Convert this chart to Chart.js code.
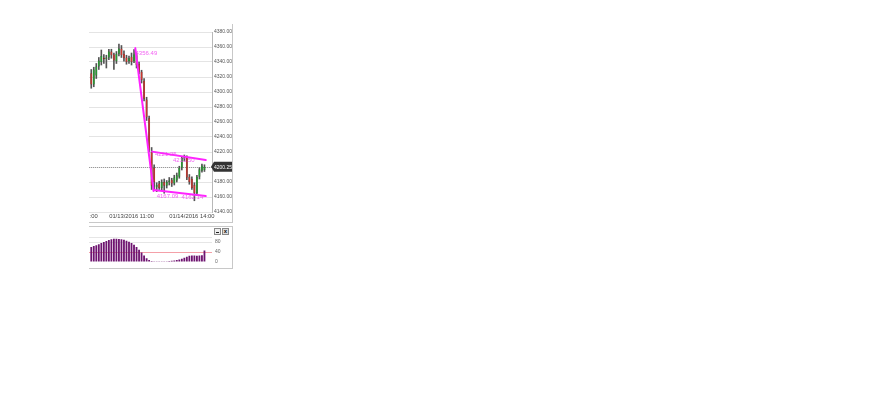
<!DOCTYPE html>
<html>
<head>
<meta charset="utf-8">
<script src="https://cdn.jsdelivr.net/npm/chart.js@4.4.0/dist/chart.umd.min.js"></script>
<style>
  body { margin: 0; background: #fff; width: 880px; height: 400px; position: relative; overflow: hidden; }
  #main { position: absolute; left: 89px; top: 24px; width: 143px; height: 198px; border-right: 1px solid #c8c8c8; border-bottom: 1px solid #c8c8c8; }
  #sub { position: absolute; left: 89px; top: 226px; width: 143px; height: 41px; border: 1px solid #c8c8c8; border-left: none; }
  .ico { position: absolute; top: 228px; width: 5px; height: 5px; border: 1px solid #888; background: #eee; }
  #min { left: 214px; }
  #min:after { content: ""; position: absolute; left: 1px; right: 1px; bottom: 1px; height: 1px; background: #222; }
  #cls { left: 222px; background: #ddd; font: bold 6px "Liberation Sans", sans-serif; line-height: 5px; text-align: center; color: #111; }
</style>
</head>
<body>
<div id="main"><canvas id="price" width="143" height="198"></canvas></div>
<div id="sub"><canvas id="osc" width="143" height="41"></canvas></div>
<div class="ico" id="min"></div>
<div class="ico" id="cls">x</div>
<script>
// candles, one per bar (indices 0..45)
const candleOpen  = [4325, 4310, 4322, 4334, 4340, 4345, 4344, 4346, 4354, 4350, 4341, 4351, 4358, 4351, 4346, 4341,
                     4347, 4341, 4349, 4337, 4327, 4315, 4290, 4265, 4220, 4199, 4173, 4178, 4172, 4180, 4175, 4180,
                     4183, 4178, 4182, 4187, 4199, 4211, 4213, 4187, 4184, 4176, 4165, 4187, 4195, 4196];
const candleHigh  = [4330, 4333, 4338, 4346, 4356, 4350, 4349, 4357, 4357, 4352, 4354, 4364, 4362, 4355, 4349, 4348,
                     4352, 4356.49, 4352, 4340, 4329, 4318, 4293, 4268, 4226, 4203, 4179, 4181, 4183, 4184, 4182, 4186,
                     4185, 4189, 4192, 4201, 4214, 4216, 4215, 4190, 4187, 4179, 4189, 4199, 4204, 4203];
const candleLow   = [4305, 4307, 4318, 4330, 4336, 4338, 4332, 4343, 4345, 4330, 4338, 4348, 4346, 4341, 4337, 4338,
                     4336, 4339, 4332, 4324, 4312, 4288, 4262, 4220, 4170, 4170, 4167.09, 4170, 4169, 4165, 4172, 4176,
                     4174, 4176, 4180, 4185, 4196, 4208, 4183, 4177, 4170, 4155, 4162.14, 4184, 4193, 4194];
const candleClose = [4310, 4330, 4334, 4342, 4348, 4344, 4346, 4354, 4349, 4342, 4351, 4358, 4349, 4345, 4340, 4345,
                     4340, 4350, 4336, 4327, 4316, 4291, 4266, 4223, 4175, 4180, 4176, 4172, 4180, 4175, 4180, 4182,
                     4178, 4186, 4189, 4199, 4212, 4213, 4186, 4180, 4172, 4165, 4187, 4197, 4202, 4200.25];
// lower panel oscillator
const oscValues = [60, 64, 67, 71, 76, 80, 84, 88, 91, 93, 93, 92, 91, 89, 85, 81,
                   76, 69, 60, 49, 38, 26, 15, 8, 4, 3, 3, 3, 3, 3, 3, 4,
                   5, 6, 8, 10, 13, 17, 21, 25, 26, 26, 25, 26, 27, 46];
const oscLevel = 40;

const priceMin = 4140, priceMax = 4380, priceStep = 20;
const xTickIndex = [1, 16, 40];
const xTickText = [':00', '01/13/2016 11:00', '01/14/2016 14:00'];
const lastPrice = 4200.25;
// drawn trend lines: [index1, price1, index2, price2]
const trendLines = [[17.5, 4358.5, 24.8, 4168], [24.2, 4220.5, 45.5, 4209.3], [24.8, 4169.3, 45.5, 4161.3]];
const trendLabels = [[17.6, 4352, '4356.49'], [25.3, 4217, '4221.25'], [32.5, 4209.5, '4213.50'],
                     [26, 4161.3, '4167.09'], [35.9, 4159.6, '4162.14']];

const FONT = '"Liberation Sans", Arial, sans-serif';
const xMin = -0.9, xMax = 48;
const idx = candleOpen.map((v, i) => i);
const up = idx.map(i => candleClose[i] >= candleOpen[i]);

const priceOverlay = {
  id: 'priceOverlay',
  beforeDatasetsDraw(chart) {
    const { ctx, chartArea: a, scales: { y } } = chart;
    const py = Math.round(y.getPixelForValue(lastPrice)) + 0.5;
    ctx.save();
    ctx.strokeStyle = '#999';
    ctx.lineWidth = 1;
    ctx.setLineDash([1, 1]);
    ctx.beginPath(); ctx.moveTo(a.left, py); ctx.lineTo(a.right, py); ctx.stroke();
    ctx.restore();
  },
  afterDatasetsDraw(chart) {
    const { ctx, chartArea: a, scales: { x, y } } = chart;
    ctx.save();
    ctx.beginPath(); ctx.rect(a.left, a.top - 4, a.right - a.left, a.bottom - a.top + 8); ctx.clip();
    ctx.strokeStyle = '#ff22ff';
    ctx.lineWidth = 2;
    ctx.lineCap = 'round';
    trendLines.forEach(t => {
      ctx.beginPath();
      ctx.moveTo(x.getPixelForValue(t[0]), y.getPixelForValue(t[1]));
      ctx.lineTo(x.getPixelForValue(t[2]), y.getPixelForValue(t[3]));
      ctx.stroke();
    });
    ctx.fillStyle = 'rgba(240,70,240,0.85)';
    ctx.font = '6px ' + FONT;
    ctx.textBaseline = 'middle';
    trendLabels.forEach(l => ctx.fillText(l[2], x.getPixelForValue(l[0]), y.getPixelForValue(l[1])));
    ctx.restore();

    // last price tag
    const py = y.getPixelForValue(lastPrice);
    ctx.save();
    ctx.fillStyle = '#333';
    ctx.beginPath();
    ctx.moveTo(a.right - 1, py);
    ctx.lineTo(a.right + 2, py - 5);
    ctx.lineTo(chart.width, py - 5);
    ctx.lineTo(chart.width, py + 5);
    ctx.lineTo(a.right + 2, py + 5);
    ctx.closePath();
    ctx.fill();
    ctx.fillStyle = '#fff';
    ctx.font = '5px ' + FONT;
    ctx.textBaseline = 'middle';
    ctx.fillText(lastPrice.toFixed(2), a.right + 2, py + 0.5);
    ctx.restore();
  }
};

new Chart(document.getElementById('price'), {
  type: 'bar',
  data: {
    datasets: [
      {
        label: 'wick',
        data: idx.map(i => ({ x: i, y: [candleLow[i], candleHigh[i]] })),
        backgroundColor: '#555',
        barThickness: 1,
        grouped: false,
        order: 2
      },
      {
        label: 'body',
        data: idx.map(i => ({ x: i, y: [candleOpen[i], candleClose[i]] })),
        backgroundColor: idx.map(i => up[i] ? '#22a82c' : '#d8342a'),
        borderColor: idx.map(i => up[i] ? '#16701c' : '#8e1d18'),
        borderWidth: 0.5,
        borderSkipped: false,
        minBarLength: 1,
        categoryPercentage: 0.8,
        barPercentage: 1,
        grouped: false,
        order: 1
      }
    ]
  },
  options: {
    responsive: false,
    animation: false,
    devicePixelRatio: 1,
    layout: { padding: { top: 8, left: 0, right: 0, bottom: 0 } },
    plugins: { legend: { display: false }, tooltip: { enabled: false } },
    scales: {
      x: {
        type: 'linear',
        min: xMin,
        max: xMax,
        offset: false,
        grid: { display: false, drawTicks: false },
        border: { display: false },
        afterBuildTicks: s => { s.ticks = xTickIndex.map(v => ({ value: v })); },
        afterFit: s => { s.height = 10; s.paddingLeft = 0; s.paddingRight = 0; },
        ticks: {
          autoSkip: false,
          maxRotation: 0,
          padding: 1,
          color: '#444',
          font: { family: FONT, size: 5.8 },
          callback: v => xTickText[xTickIndex.indexOf(v)]
        }
      },
      y: {
        position: 'right',
        min: priceMin,
        max: priceMax,
        afterFit: s => { s.width = 20; },
        grid: { color: '#e4e4e4', drawTicks: false, lineWidth: 1 },
        border: { display: true, color: '#b8b8b8' },
        ticks: {
          stepSize: priceStep,
          autoSkip: false,
          padding: 2,
          color: '#555',
          font: { family: FONT, size: 5 },
          callback: v => v.toFixed(2)
        }
      }
    }
  },
  plugins: [priceOverlay]
});

new Chart(document.getElementById('osc'), {
  type: 'bar',
  data: {
    datasets: [{
      data: idx.map(i => ({ x: i, y: oscValues[i] })),
      backgroundColor: '#6e1470',
      categoryPercentage: 0.72,
      barPercentage: 1
    }]
  },
  options: {
    responsive: false,
    animation: false,
    devicePixelRatio: 1,
    layout: { padding: { top: 9, left: 0, right: 0, bottom: 6 } },
    plugins: { legend: { display: false }, tooltip: { enabled: false } },
    scales: {
      x: { type: 'linear', min: xMin, max: xMax, offset: false, display: false },
      y: {
        position: 'right',
        min: 0,
        max: 104,
        afterBuildTicks: s => { s.ticks = [0, oscLevel, 80, 100].map(v => ({ value: v })); },
        afterFit: s => { s.width = 20; },
        grid: {
          drawTicks: false,
          color: c => c.tick.value === oscLevel ? '#f4a0a8' : (c.tick.value === 0 ? 'rgba(0,0,0,0)' : '#e6e6e6')
        },
        border: { display: false },
        ticks: {
          autoSkip: false,
          padding: 3,
          color: '#666',
          font: { family: FONT, size: 5 },
          callback: v => (v === 100 ? '' : v)
        }
      }
    }
  }
});
</script>
</body>
</html>
